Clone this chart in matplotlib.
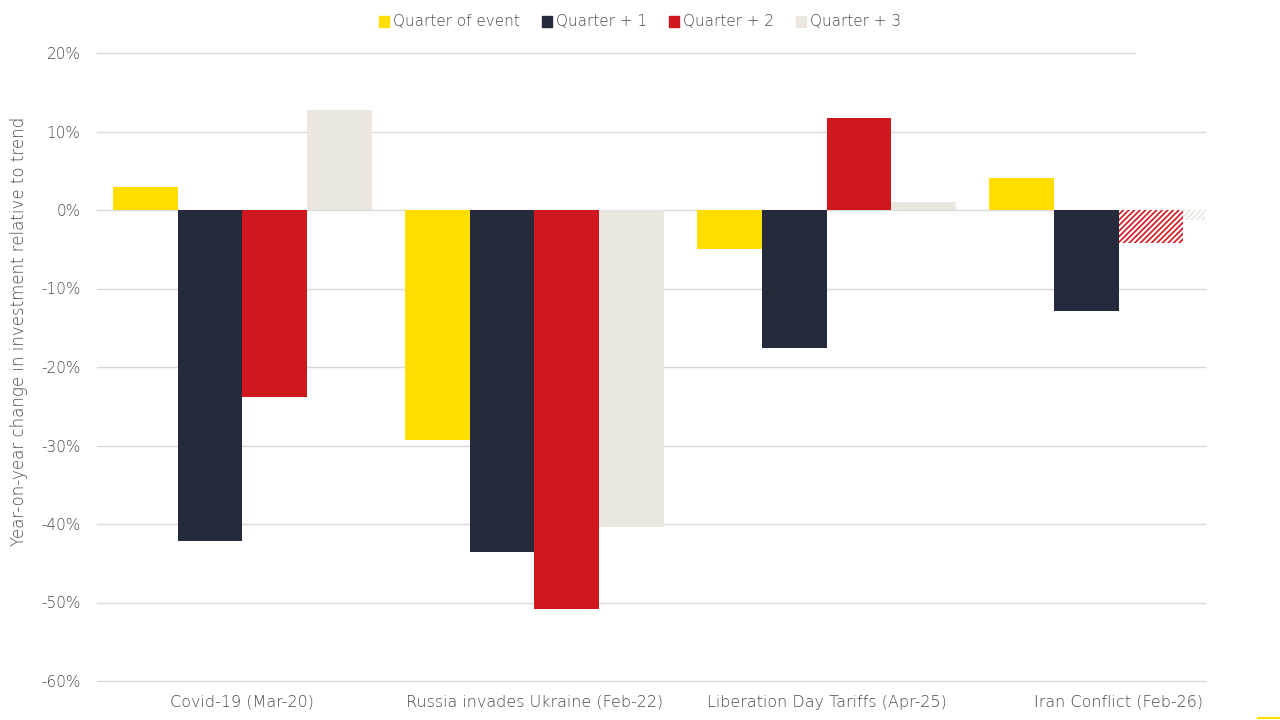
import matplotlib
matplotlib.use("Agg")
import matplotlib.pyplot as plt
import numpy as np
from matplotlib.lines import Line2D

plt.rcParams['font.family'] = ['DejaVu Sans']
plt.rcParams['font.weight'] = 'light'
plt.rcParams['axes.labelweight'] = 'light'
plt.rcParams['hatch.linewidth'] = 1.2

categories = ["Covid-19 (Mar-20)", "Russia invades Ukraine (Feb-22)",
              "Liberation Day Tariffs (Apr-25)", "Iran Conflict (Feb-26)"]
series_names = ["Quarter of event", "Quarter + 1", "Quarter + 2", "Quarter + 3"]
q0 = [2.9, -29.3, -5.0, 4.1]
q1 = [-42.2, -43.6, -17.6, -12.9]
q2 = [-23.8, -50.8, 11.7, -4.2]
q3 = [12.7, -40.4, 1.0, -1.3]
# which bars are estimates (hatched)
estimate = [[False, False, False, False],
            [False, False, False, False],
            [False, False, False, True],
            [False, False, False, True]]
colors = ["#FFDE00", "#252A3D", "#CE181E", "#EBE6E0"]
yticks = [20, 10, 0, -10, -20, -30, -40, -50, -60]

text_color = "#4a4a4a"
grid_color = "#d9d9d9"

fig = plt.figure(figsize=(12.8, 7.2), dpi=100)
ax = fig.add_axes([97/1280, 1-681/720, (1205-97)/1280, (681-53)/720])

x = np.arange(len(categories))
w = 0.222
data = [q0, q1, q2, q3]
for i, (vals, col) in enumerate(zip(data, colors)):
    offs = (i - 1.5) * w
    for j, v in enumerate(vals):
        if estimate[i][j]:
            ax.bar(x[j] + offs, v, w, color="white", edgecolor=col, hatch="//////",
                   linewidth=0, zorder=3)
        else:
            ax.bar(x[j] + offs, v, w, color=col, linewidth=0, zorder=3)

ax.set_xlim(-0.498, 3.296)
ax.set_ylim(-60, 20)

for t in yticks:
    xmax = 0.937 if t == 20 else 1.0
    ax.axhline(t, xmin=0, xmax=xmax, color=grid_color, lw=1, zorder=1, clip_on=False)

fs = 11.5
ax.set_yticks(yticks)
ax.set_yticklabels([f"{t}%" for t in yticks])
ax.set_xticks(x)
ax.set_xticklabels(categories)
ax.tick_params(axis='y', length=0, pad=12, labelsize=11, labelcolor=text_color)
ax.tick_params(axis='x', length=0, pad=10, labelsize=fs, labelcolor=text_color)
for s in ax.spines.values():
    s.set_visible(False)

ax.set_ylabel("Year-on-year change in investment relative to trend",
              fontsize=12, color=text_color)
ax.yaxis.set_label_coords(-0.062, 0.557)

handles = [plt.Rectangle((0, 0), 1, 1, color=c) for c in colors]
fig.legend(handles, series_names, loc="center", bbox_to_anchor=(0.5, 1-22/720),
           ncol=4, frameon=False, fontsize=11, labelcolor=text_color,
           handlelength=0.7, handleheight=0.7, handletextpad=0.25, columnspacing=1.4)

fig.add_artist(Line2D([1258/1280, 1.0], [1-718/720, 1-718/720], color="#FFDE00", lw=1.5))

fig.savefig("out.png", dpi=100)
